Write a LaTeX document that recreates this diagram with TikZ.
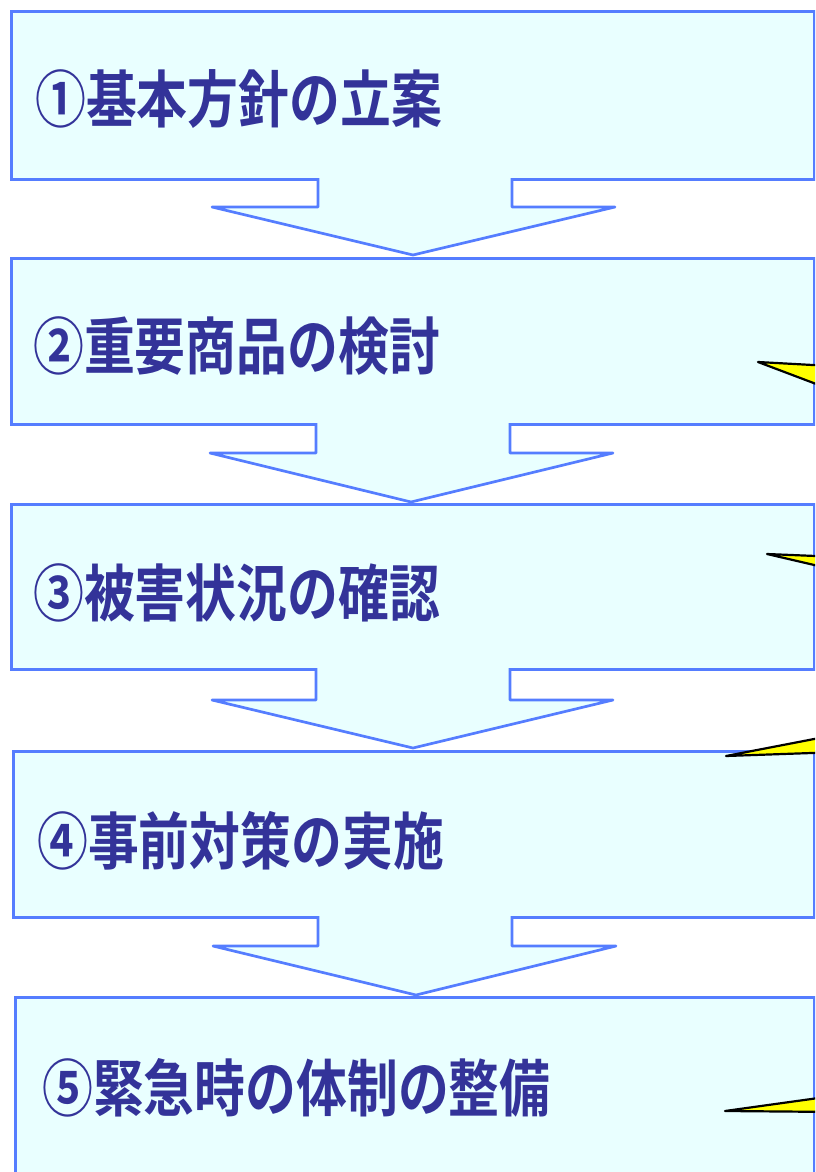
\documentclass[tikz,border=0pt]{standalone}
\usepackage{fontspec}
\newfontfamily\jp{Noto Sans CJK JP}[BoldFont={* Bold}]
\definecolor{boxfill}{RGB}{233,255,255}
\definecolor{boxline}{RGB}{85,125,255}
\definecolor{txt}{RGB}{51,51,153}
\definecolor{callout}{RGB}{255,255,0}
\tikzset{
  stepbox/.style={draw=boxline, fill=boxfill, line width=2.7pt, inner sep=0pt, anchor=north west},
  arrowfill/.style={fill=boxfill},
  arrowline/.style={draw=boxline, line width=2.7pt, line join=round},
  label/.style={font=\jp\bfseries\fontsize{62}{62}\selectfont, text=txt, anchor=base west, inner sep=0pt, xscale=0.82},
  callbox/.style={fill=callout, draw=black, line width=2.2pt, line join=round},
}
\begin{document}
\begin{tikzpicture}[x=1pt,y=-1pt]
\useasboundingbox (0,0) rectangle (815,1172);
\clip (0,0) rectangle (815,1172);
\fill[white] (0,0) rectangle (815,1172);
% box 1
\node[stepbox, minimum width=803pt, minimum height=168pt] (b1) at (10,10) {};
\fill[arrowfill] (318,176) -- (318,207) -- (212,207) -- (413,255) -- (615,207) -- (512,207) -- (512,176) -- cycle;
\draw[arrowline] (318,178) -- (318,207) -- (212,207) -- (413,255) -- (615,207) -- (512,207) -- (512,178);
% box 2
\node[stepbox, minimum width=803pt, minimum height=166pt] (b2) at (10,257) {};
\fill[arrowfill] (316,421) -- (316,453) -- (210,453) -- (411,502) -- (613,453) -- (510,453) -- (510,421) -- cycle;
\draw[arrowline] (316,423) -- (316,453) -- (210,453) -- (411,502) -- (613,453) -- (510,453) -- (510,423);
% box 3
\node[stepbox, minimum width=803pt, minimum height=165pt] (b3) at (10,503) {};
\fill[arrowfill] (316,666) -- (316,700) -- (212,700) -- (413,748) -- (613,700) -- (510,700) -- (510,666) -- cycle;
\draw[arrowline] (316,668) -- (316,700) -- (212,700) -- (413,748) -- (613,700) -- (510,700) -- (510,668);
% box 4
\node[stepbox, minimum width=801pt, minimum height=166pt] (b4) at (12,750) {};
\fill[arrowfill] (318,914) -- (318,946) -- (213,946) -- (416,995) -- (616,946) -- (512,946) -- (512,914) -- cycle;
\draw[arrowline] (318,916) -- (318,946) -- (213,946) -- (416,995) -- (616,946) -- (512,946) -- (512,916);
% box 5
\node[stepbox, minimum width=799pt, minimum height=190pt] (b5) at (14,996) {};
% labels
\node[label] (t1) at (35,122) {①基本方針の立案};
\node[label] (t2) at (33,369) {②重要商品の検討};
\node[label] (t3) at (33,616) {③被害状況の確認};
\node[label] (t4) at (37,864) {④事前対策の実施};
\node[label] (t5) at (42,1111) {⑤緊急時の体制の整備};
% callouts
\coordinate (c1) at (758,362);
\coordinate (c2) at (767,554);
\coordinate (c3) at (726,756);
\coordinate (c4) at (725,1111);
\draw[callbox] (c1) -- (840,366.5) -- (840,393) -- cycle;
\draw[callbox] (c2) -- (840,557) -- (840,571) -- cycle;
\draw[callbox] (c3) -- (840,734) -- (840,752) -- cycle;
\draw[callbox] (c4) -- (840,1095) -- (840,1112) -- cycle;
\end{tikzpicture}
\end{document}
